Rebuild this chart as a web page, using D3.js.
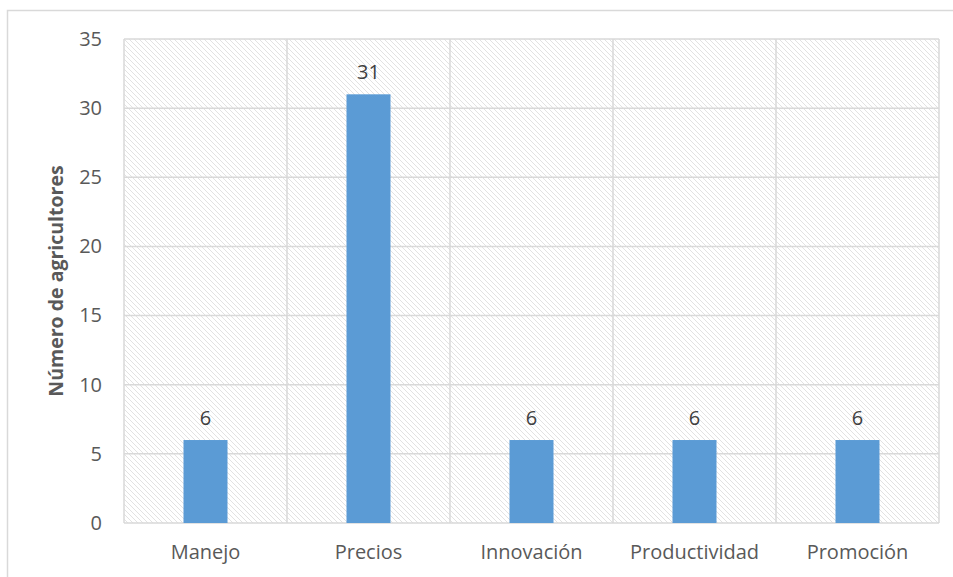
<!DOCTYPE html>
<html>
<head>
<meta charset="utf-8">
<script src="https://cdn.jsdelivr.net/npm/d3@7"></script>
<style>
body { margin: 0; background: #fff; }
svg { display: block; font-family: "Open Sans", "Noto Sans", sans-serif; }
</style>
</head>
<body>
<div id="chart"></div>
<script>
var categories = ["Manejo", "Precios", "Innovación", "Productividad", "Promoción"];
var values = [6, 31, 6, 6, 6];
var yTicks = [0, 5, 10, 15, 20, 25, 30, 35];
var yTitle = "Número de agricultores";

var W = 953, H = 577;
var margin = {left: 124, right: 14, top: 39, bottom: 54};
var width = W - margin.left - margin.right;
var height = H - margin.top - margin.bottom;

var svg = d3.select('#chart').append('svg')
	.attr('width', W)
	.attr('height', H);

// hatch fill for the plot area
var pat = svg.append('defs').append('pattern')
	.attr('id', 'hatch')
	.attr('patternUnits', 'userSpaceOnUse')
	.attr('width', 5)
	.attr('height', 5);
pat.append('rect').attr('width', 5).attr('height', 5).attr('fill', '#fff');
pat.append('path')
	.attr('d', 'M-1,-1 L6,6 M-1,4 L1,6 M4,-1 L6,1')
	.attr('stroke', '#e2e2e2')
	.attr('stroke-width', 1);

// outer chart border
svg.append('rect')
	.attr('x', 7.5).attr('y', 10.5)
	.attr('width', W).attr('height', H)
	.attr('fill', 'none')
	.attr('stroke', '#d9d9d9')
	.attr('stroke-width', 1.5);

var g = svg.append('g').attr('transform', 'translate(' + margin.left + ',' + margin.top + ')');

var x = d3.scaleBand()
	.domain(categories)
	.range([0, width])
	.paddingInner(0.73)
	.paddingOuter(0.365);

var band = d3.scaleBand().domain(categories).range([0, width]);

var y = d3.scaleLinear()
	.domain([0, 35])
	.range([height, 0]);

g.append('rect')
	.attr('width', width)
	.attr('height', height)
	.attr('fill', 'url(#hatch)');

// horizontal grid
g.selectAll('.hgrid')
	.data(yTicks)
	.enter().append('line')
	.attr('x1', 0).attr('x2', width)
	.attr('y1', function(d) { return y(d); })
	.attr('y2', function(d) { return y(d); })
	.attr('stroke', '#d9d9d9')
	.attr('stroke-width', 1.5);

// vertical grid at band edges
var edges = categories.map(function(c) { return band(c); }).concat([width]);
g.selectAll('.vgrid')
	.data(edges)
	.enter().append('line')
	.attr('x1', function(d) { return d; })
	.attr('x2', function(d) { return d; })
	.attr('y1', 0).attr('y2', height)
	.attr('stroke', '#d9d9d9')
	.attr('stroke-width', 1.5);

g.selectAll('.bar')
	.data(values)
	.enter().append('rect')
	.attr('x', function(d, i) { return x(categories[i]); })
	.attr('y', function(d) { return y(d); })
	.attr('width', x.bandwidth())
	.attr('height', function(d) { return height - y(d); })
	.style('fill', '#5b9bd5');

g.selectAll('.lbl')
	.data(values)
	.enter().append('text')
	.attr('x', function(d, i) { return x(categories[i]) + x.bandwidth() / 2; })
	.attr('y', function(d) { return y(d) - 15; })
	.attr('text-anchor', 'middle')
	.style('font-size', '20px')
	.style('fill', '#404040')
	.text(function(d) { return d; });

var yAxis = d3.axisLeft(y).tickValues(yTicks).tickSize(0).tickPadding(22);
g.append('g')
	.call(yAxis)
	.call(function(s) { s.select('.domain').remove(); })
	.selectAll('text')
	.style('font-size', '20px')
	.style('font-family', '"Open Sans", "Noto Sans", sans-serif')
	.style('fill', '#595959');

var xAxis = d3.axisBottom(band).tickSize(0).tickPadding(22);
g.append('g')
	.attr('transform', 'translate(0,' + height + ')')
	.call(xAxis)
	.call(function(s) { s.select('.domain').remove(); })
	.selectAll('text')
	.style('font-size', '20px')
	.style('font-family', '"Open Sans", "Noto Sans", sans-serif')
	.style('fill', '#595959');

svg.append('text')
	.attr('transform', 'translate(63,' + (margin.top + height / 2) + ') rotate(-90)')
	.attr('text-anchor', 'middle')
	.style('font-size', '19.5px')
	.style('font-weight', 'bold')
	.style('fill', '#595959')
	.text(yTitle);
</script>
</body>
</html>
